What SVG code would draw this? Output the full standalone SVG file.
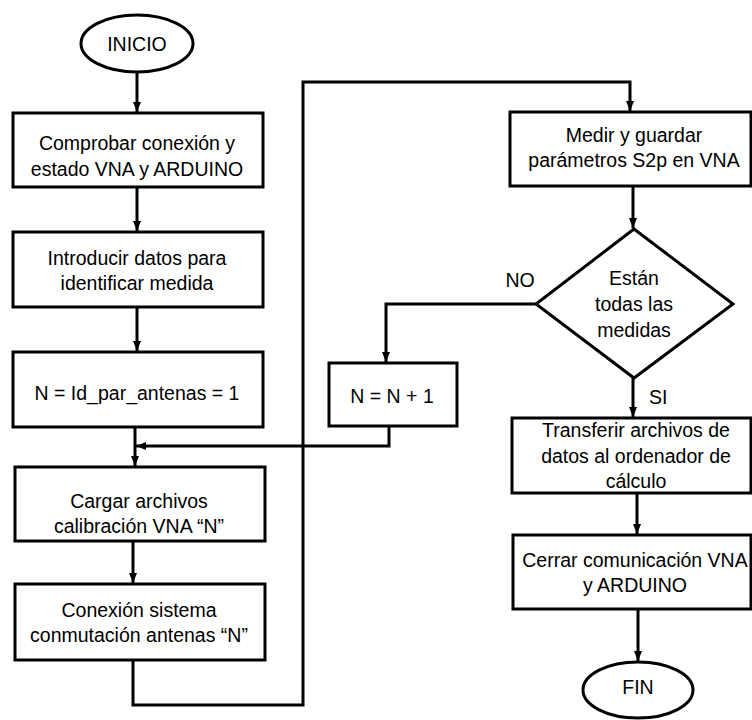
<svg xmlns="http://www.w3.org/2000/svg" width="752" height="720" viewBox="0 0 752 720">
<style>
.n{fill:#fff;stroke:#000;stroke-width:3}
.c{fill:none;stroke:#000;stroke-width:3}
text{font-family:"Liberation Sans",Arial,sans-serif;font-size:19.5px;fill:#000;text-anchor:middle}
.l{text-anchor:start}
</style>
<defs>
<marker id="a" markerUnits="userSpaceOnUse" markerWidth="10" markerHeight="10" viewBox="0 0 10 10" refX="10" refY="5" orient="auto">
<path d="M0,1 L10,5 L0,9 Z" fill="#000"/>
</marker>
</defs>
<rect width="752" height="720" fill="#fff"/>
<g id="connectors">
<path class="c" d="M137,72 V112" marker-end="url(#a)"/>
<path class="c" d="M137,187 V231" marker-end="url(#a)"/>
<path class="c" d="M137,307 V351" marker-end="url(#a)"/>
<path class="c" d="M135,427 V466" marker-end="url(#a)"/>
<path class="c" d="M389,426 V446 H136" marker-end="url(#a)"/>
<path class="c" d="M133,541 V583" marker-end="url(#a)"/>
<path class="c" d="M133,660 V705 H303 V82 H630 V111" marker-end="url(#a)"/>
<path class="c" d="M633,186 V228" marker-end="url(#a)"/>
<path class="c" d="M536,304 H386 V362" marker-end="url(#a)"/>
<path class="c" d="M633,378 V417" marker-end="url(#a)"/>
<path class="c" d="M637,493 V534" marker-end="url(#a)"/>
<path class="c" d="M638,609 V661" marker-end="url(#a)"/>
</g>
<g id="inicio"><ellipse class="n" cx="137" cy="43.5" rx="56" ry="28.5"/><text x="137" y="51">INICIO</text></g>
<g id="comprobar"><rect class="n" x="13" y="113" width="250" height="74"/><text x="137" y="150">Comprobar conexión y</text><text x="137" y="176">estado VNA y ARDUINO</text></g>
<g id="introducir"><rect class="n" x="13" y="232" width="250" height="75"/><text x="137" y="265">Introducir datos para</text><text x="137" y="290">identificar medida</text></g>
<g id="inicializar"><rect class="n" x="13" y="352" width="250" height="75"/><text x="137" y="400">N = Id_par_antenas = 1</text></g>
<g id="cargar"><rect class="n" x="15" y="467" width="250" height="74"/><text x="139" y="508">Cargar archivos</text><text x="139" y="533">calibración VNA “N”</text></g>
<g id="conexion"><rect class="n" x="15" y="584" width="250" height="76"/><text x="139" y="617">Conexión sistema</text><text x="139" y="642">conmutación antenas “N”</text></g>
<g id="medir"><rect class="n" x="510" y="112" width="241" height="74"/><text x="634" y="142">Medir y guardar</text><text x="634" y="167">parámetros S2p en VNA</text></g>
<g id="decision"><polygon class="n" points="634,229 733,304 634,378 536,304"/><text x="634" y="285">Están</text><text x="634" y="311">todas las</text><text x="634" y="337">medidas</text></g>
<g id="incrementar"><rect class="n" x="329" y="363" width="128" height="63"/><text x="392" y="403">N = N + 1</text></g>
<g id="transferir"><rect class="n" x="512" y="418" width="239" height="75"/><text x="636" y="437">Transferir archivos de</text><text x="636" y="463">datos al ordenador de</text><text x="636" y="488">cálculo</text></g>
<g id="cerrar"><rect class="n" x="513" y="535" width="238" height="74"/><text x="635" y="567">Cerrar comunicación VNA</text><text x="635" y="592">y ARDUINO</text></g>
<g id="fin"><ellipse class="n" cx="638" cy="690" rx="55" ry="28"/><text x="638" y="694">FIN</text></g>
<g id="labels"><text x="520" y="287">NO</text><text class="l" x="649" y="404">SI</text></g>
</svg>
